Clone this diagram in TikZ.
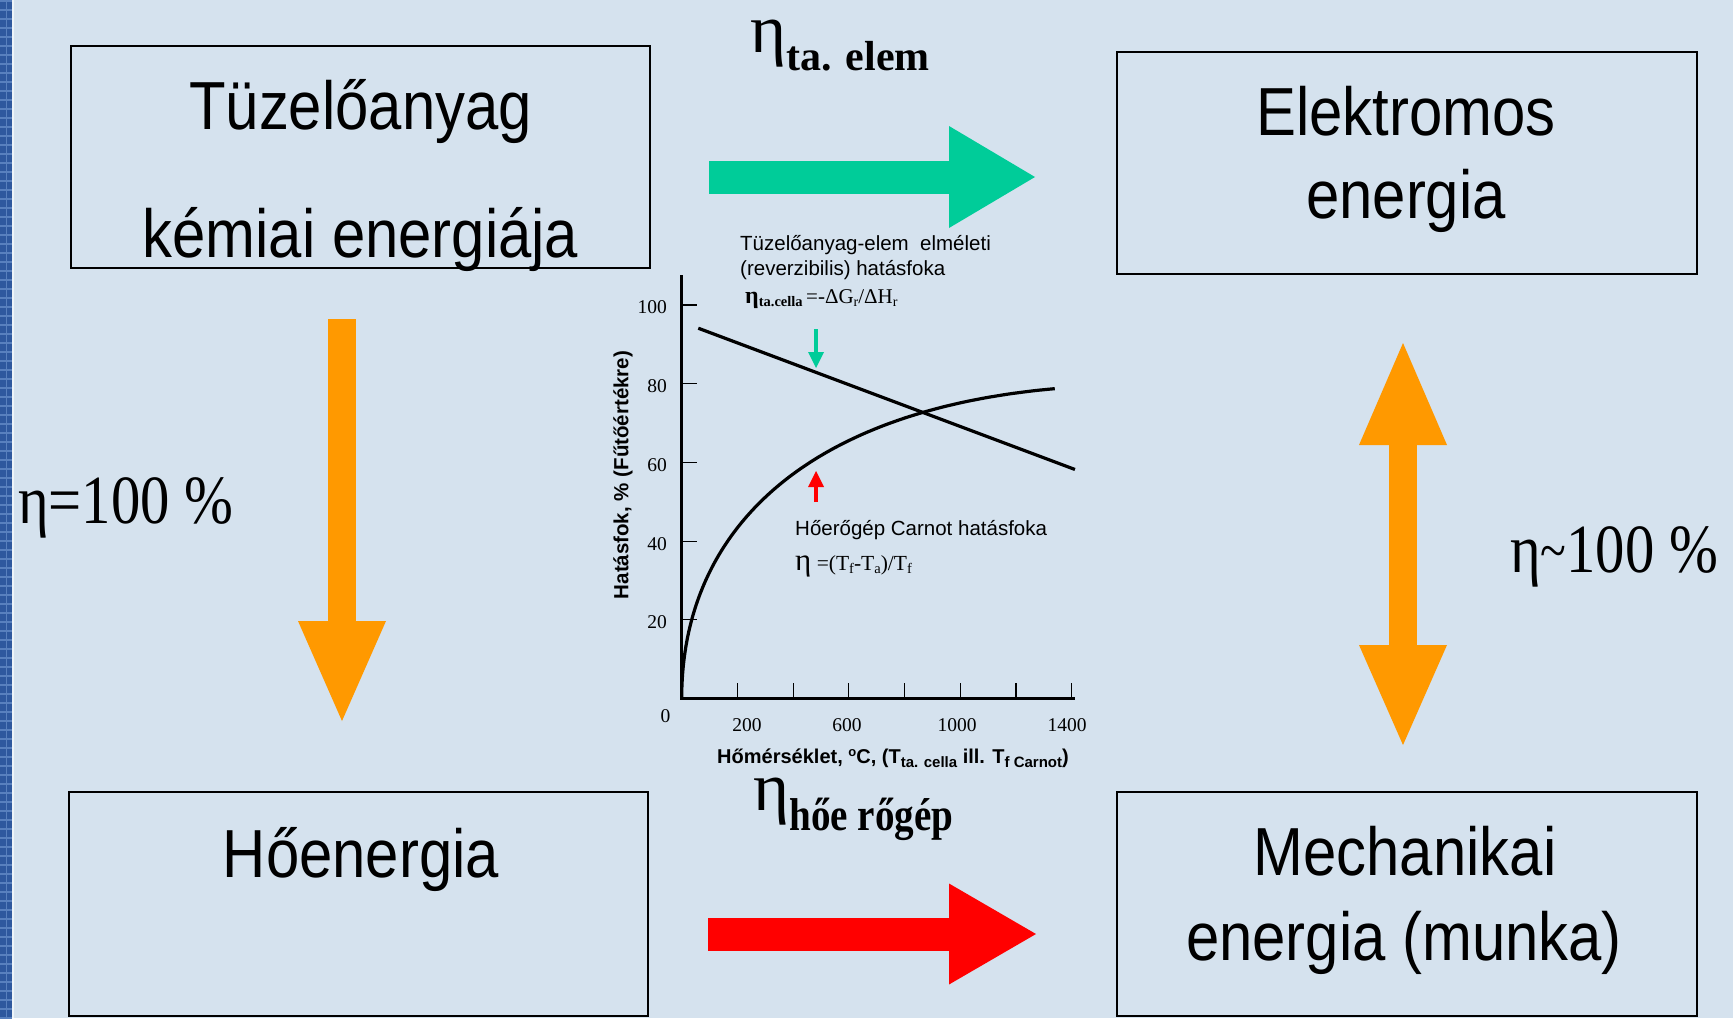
\documentclass[tikz,border=0pt]{standalone}
\usepackage{fontspec}
\setmainfont{Liberation Serif}
\setsansfont{Liberation Sans}
\newfontfamily\boxfont{Liberation Sans}[FakeStretch=0.88]
\newfontfamily\lsans{Liberation Sans}
\newfontfamily\narrowserif{Liberation Serif}[FakeStretch=0.85]
\usetikzlibrary{arrows.meta}
\definecolor{bgc}{RGB}{213,226,238}
\definecolor{stripec}{RGB}{46,88,158}
\definecolor{stripel}{RGB}{88,128,190}
\definecolor{greenc}{RGB}{0,204,153}
\definecolor{orangec}{RGB}{255,153,0}
\definecolor{redc}{RGB}{255,0,0}
\begin{document}
\begin{tikzpicture}[x=1pt,y=-1pt,
  box/.style={draw=black,line width=2.2pt,rectangle,inner sep=0pt},
  boxtxt/.style={inner sep=0pt,font=\boxfont\fontsize{68}{80}\selectfont},
  bigeta/.style={inner sep=0pt,font=\fontsize{69}{80}\selectfont},
  small/.style={inner sep=0pt,font=\lsans\fontsize{20.5}{24}\selectfont},
  num/.style={inner sep=0pt,font=\fontsize{19.5}{23}\selectfont},
  axisline/.style={line width=3pt},
  tickline/.style={line width=1.2pt},
  curve/.style={line width=3.2pt},
  fatgreen/.style={draw=greenc,line width=33pt,-{Triangle[length=86pt,width=102pt,line width=0pt]}},
  fatred/.style={draw=redc,line width=33pt,-{Triangle[length=87pt,width=101pt,line width=0pt]}},
  fatorange/.style={draw=orangec,line width=28pt,-{Triangle[length=100pt,width=88pt,line width=0pt]}},
  fatdouble/.style={draw=orangec,line width=28pt,{Triangle[length=102pt,width=88pt,line width=0pt]}-{Triangle[length=100pt,width=88pt,line width=0pt]}},
]
\useasboundingbox (0,0) rectangle (1733,1018);
\fill[bgc] (0,0) rectangle (1733,1018);
% left stripe
\fill[stripec] (0,0) rectangle (12,1018);
\foreach \yy in {0,9,...,1017} \fill[stripel] (0,\yy) rectangle (12,\yy+1.6);
\fill[stripel] (5.5,0) rectangle (6.5,1018);
\fill[white!60!bgc] (12,0) rectangle (14,1018);

% boxes
\node[box,minimum width=579pt,minimum height=222pt] (b1) at (360.5,157) {};
\node[box,minimum width=580pt,minimum height=222pt] (b2) at (1407,163) {};
\node[box,minimum width=579pt,minimum height=224pt] (b3) at (358.5,904) {};
\node[box,minimum width=580pt,minimum height=224pt] (b4) at (1407,904) {};

\node[boxtxt,anchor=base] (t1a) at (360.5,129) {Tüzelőanyag};
\node[boxtxt,anchor=base] (t1b) at (360.5,257) {kémiai energiája};
\node[boxtxt,anchor=base] (t2a) at (1406,135) {Elektromos};
\node[boxtxt,anchor=base] (t2b) at (1406,218) {energia};
\node[boxtxt,anchor=base] (t3a) at (361,877) {Hőenergia};
\node[boxtxt,anchor=base] (t4a) at (1405,875) {Mechanikai};
\node[boxtxt,anchor=base] (t4b) at (1404,960) {energia (munka)};

% fat arrows
\coordinate (gs) at (709,177);
\coordinate (ge) at (1035,177);
\draw[fatgreen] (gs) -- (ge);
\coordinate (rs) at (708,934);
\coordinate (re) at (1036,934);
\draw[fatred] (rs) -- (re);
\coordinate (os) at (342,319);
\coordinate (oe) at (342,721);
\draw[fatorange] (os) -- (oe);
\coordinate (ds) at (1403,343);
\coordinate (de) at (1403,745);
\draw[fatdouble] (ds) -- (de);

% eta labels
\node[bigeta,anchor=base west] (etaA) at (750,52) {η\raisebox{-18pt}{\fontsize{42}{46}\selectfont\bfseries ta. elem}};
\node[bigeta,anchor=base west] (etaB) at (753,810) {η\raisebox{-20pt}{\narrowserif\fontsize{46}{50}\selectfont\bfseries hőe rőgép}};
\node[bigeta,anchor=base west,font=\narrowserif\fontsize{69}{80}\selectfont] (etaC) at (18,523) {η=100 \%};
\node[bigeta,anchor=base west,font=\narrowserif\fontsize{69}{80}\selectfont] (etaD) at (1510,572) {η\raisebox{3pt}{\fontsize{56}{56}\selectfont\char"7E}100 \%};

% chart
\begin{scope}[shift={(681.7,698.5)}]
\begin{scope}[x=0.2785pt,y=3.935pt]
  \coordinate (o) at (0,0);
  \coordinate (ytop) at (0,107.6);
  \coordinate (xend) at (1412,0);
  \draw[axisline] (ytop) -- (o) -- (xend);
  \foreach \v in {20,40,60,80,100} \draw[tickline] (0,\v) -- ++(15.3pt,0pt);
  \foreach \t in {200,400,...,1400} \draw[tickline] (\t,0) -- ++(0pt,16pt);
  \coordinate (fa) at (59.6,94.1);
  \coordinate (fb) at (1412,58.2);
  \draw[curve] (fa) -- (fb);
  \draw[curve,line join=round] plot[domain=0:36.6,samples=140,variable=\u] ({\u*\u},{3.518*\u-0.02841*\u*\u-0.000243*\u*\u*\u});
\end{scope}
\end{scope}

% axis numbers
\node[num,anchor=east] (y100) at (667,307) {100};
\node[num,anchor=east] (y80) at (667,386.5) {80};
\node[num,anchor=east] (y60) at (667,465) {60};
\node[num,anchor=east] (y40) at (667,544) {40};
\node[num,anchor=east] (y20) at (667,622.5) {20};
\node[num] (x0) at (665.5,716) {0};
\node[num] (x200) at (747,725.5) {200};
\node[num] (x600) at (847,725.5) {600};
\node[num] (x1000) at (957,725.5) {1000};
\node[num] (x1400) at (1067,725.5) {1400};

% axis titles
\node[inner sep=0pt,rotate=90,font=\lsans\bfseries\fontsize{20.5}{24}\selectfont] (ytitle) at (623,475) {Hatásfok, \% (Fűtőértékre)};
\node[inner sep=0pt,anchor=base,font=\lsans\bfseries\fontsize{20}{24}\selectfont] (xtitle) at (893,763) {Hőmérséklet, \raisebox{6.5pt}{\fontsize{13}{13}\selectfont o}C, (T\raisebox{-4pt}{\fontsize{15}{15}\selectfont ta. cella} ill. T\raisebox{-4pt}{\fontsize{15}{15}\selectfont f Carnot})};

% chart annotations
\node[small,anchor=base west] (ann1) at (740,250.7) {Tüzelőanyag-elem\ \ elméleti};
\node[small,anchor=base west] (ann2) at (740,275) {(reverzibilis) hatásfoka};
\node[inner sep=0pt,anchor=base west,font=\fontsize{21}{24}\selectfont] (ann3) at (745,303) {{\fontsize{24}{26}\selectfont\textbf{η}}\raisebox{-3.5pt}{\fontsize{14.5}{15}\selectfont\bfseries ta.cella}\,=-ΔG\raisebox{-3.5pt}{\fontsize{14}{15}\selectfont r}/ΔH\raisebox{-3.5pt}{\fontsize{14}{15}\selectfont r}};
\node[small,anchor=base west] (ann4) at (795,535) {Hőerőgép Carnot hatásfoka};
\node[inner sep=0pt,anchor=base west,font=\fontsize{21.5}{24}\selectfont] (ann5) at (795,570) {{\fontsize{31}{32}\selectfont η}\ =(T\raisebox{-3.5pt}{\fontsize{14.5}{15}\selectfont f}-T\raisebox{-3.5pt}{\fontsize{14.5}{15}\selectfont a})/T\raisebox{-3.5pt}{\fontsize{14.5}{15}\selectfont f}};

% small pointer arrows
\coordinate (gas) at (816,329);
\coordinate (gae) at (816,368);
\draw[greenc,line width=3.5pt,-{Triangle[length=16pt,width=16pt,line width=0pt]}] (gas) -- (gae);
\coordinate (ras) at (816,502);
\coordinate (rae) at (816,471);
\draw[redc,line width=3.5pt,-{Triangle[length=16pt,width=16pt,line width=0pt]}] (ras) -- (rae);
\end{tikzpicture}
\end{document}
